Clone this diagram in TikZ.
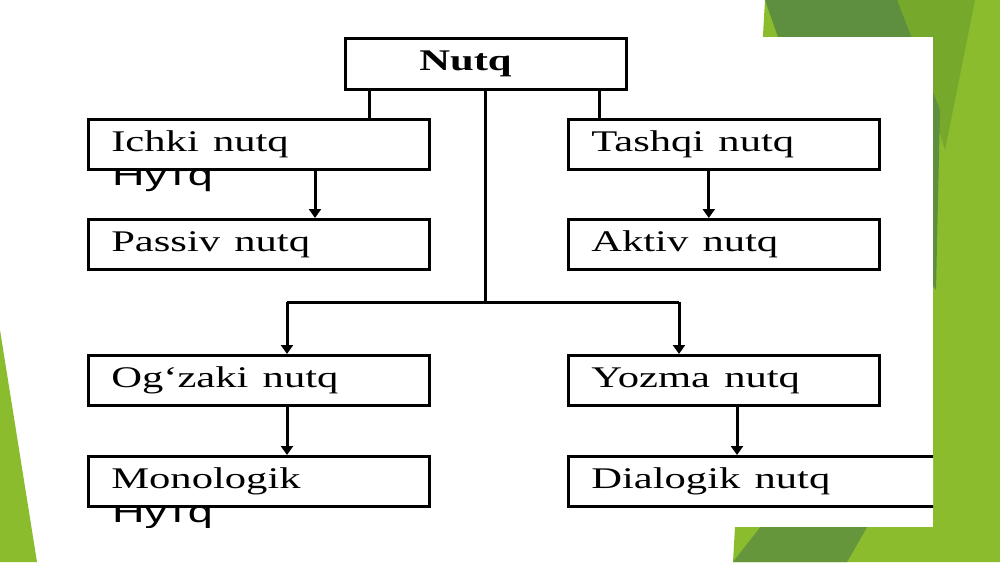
\documentclass[tikz,border=0pt]{standalone}
\usepackage{fontspec}
\setmainfont{Liberation Serif}
\newfontfamily\cyrfont{Liberation Sans}
\usetikzlibrary{arrows.meta}
\newcommand\wide[1]{\scalebox{1.42}[1]{#1}}
\definecolor{leafdark}{RGB}{94,143,62}
\definecolor{leafmid}{RGB}{118,168,44}
\definecolor{leaflight}{RGB}{138,188,46}
\begin{document}
\begin{tikzpicture}[x=1pt, y=-1pt, >={Triangle[width=12pt,length=9pt]},
	box/.style={draw, line width=2.6pt, fill=white, anchor=north west, inner xsep=23pt, inner ysep=0pt,
		minimum height=50pt, text height=21pt, text depth=7pt, align=left, font=\fontsize{30}{34}\selectfont},
	lbox/.style={box, text width=295pt},
	rbox/.style={box, text width=265pt},
	conn/.style={line width=3pt},
	cyr/.style={anchor=base west, inner sep=0pt, font=\cyrfont\fontsize{30}{34}\selectfont}]
		\useasboundingbox (0,0) rectangle (1000,562);
		% slide background
		\fill[white] (0,0) rectangle (1000,562);
		\fill[leaflight] (765,0) -- (1000,0) -- (1000,562) -- (733,562) -- cycle;
		\fill[leafmid] (897,0) -- (975,0) -- (945,150) -- cycle;
		\fill[leafdark] (765,0) -- (897,0) -- (940,110) -- (936,290) -- (800,100) -- cycle;
		\fill[leafdark!85!leaflight] (805,470) -- (900,470) -- (847,562) -- (733,562) -- cycle;
		\fill[leaflight] (0,330) -- (37,562) -- (0,562) -- cycle;
		\fill[white] (45,37) rectangle (933,527);
		\begin{scope}
		\clip (45,37) rectangle (933,527);
		\node[cyr] (ichkicyr) at (112,185) {\scalebox{1.5}[1]{Нутq}};
		\node[cyr] (monocyr) at (112,522) {\scalebox{1.5}[1]{Нутq}};
		\node[box, inner xsep=74pt, text width=133pt, minimum height=51pt, font=\fontsize{30}{34}\selectfont\bfseries] (nutq) at (344,37) {\wide{Nutq}};
		\node[lbox] (ichki) at (87,118) {\wide{Ichki nutq}};
		\node[lbox] (passiv) at (87,218) {\wide{Passiv nutq}};
		\node[lbox] (ogzaki) at (87,354) {\wide{Og‘zaki nutq}};
		\node[lbox] (mono) at (87,455) {\wide{Monologik}};
		\node[rbox] (tashqi) at (567,118) {\wide{Tashqi nutq}};
		\node[rbox] (aktiv) at (567,218) {\wide{Aktiv nutq}};
		\node[rbox] (yozma) at (567,354) {\wide{Yozma nutq}};
		\node[rbox, text width=334pt] (dialog) at (567,455) {\wide{Dialogik nutq}};
		% connectors
		\coordinate (nl) at ([xshift=25pt]nutq.south west);
		\coordinate (nr) at ([xshift=-28pt]nutq.south east);
		\coordinate (split) at (485,302);
		\coordinate (ls) at (287,302);
		\coordinate (rs) at (679,302);
		\begin{scope}[conn]
		\draw (nl) -- (nl |- ichki.north);
		\draw (nr) -- (nr |- tashqi.north);
		\draw (nutq.south -| split) -- (split);
		\draw (ls) -- (rs);
		\draw[->] (ls) -- (ls |- ogzaki.north);
		\draw[->] (rs) -- (rs |- yozma.north);
		\draw[->] ([xshift=228pt]ichki.south west) -- ([xshift=228pt]passiv.north west);
		\draw[->] ([xshift=-15pt]tashqi.south) -- ([xshift=-15pt]aktiv.north);
		\draw[->] ([xshift=200pt]ogzaki.south west) -- ([xshift=200pt]mono.north west);
		\draw[->] ([xshift=170pt]yozma.south west) -- ([xshift=170pt]dialog.north west);
		\end{scope}
		\end{scope}
\end{tikzpicture}
\end{document}
